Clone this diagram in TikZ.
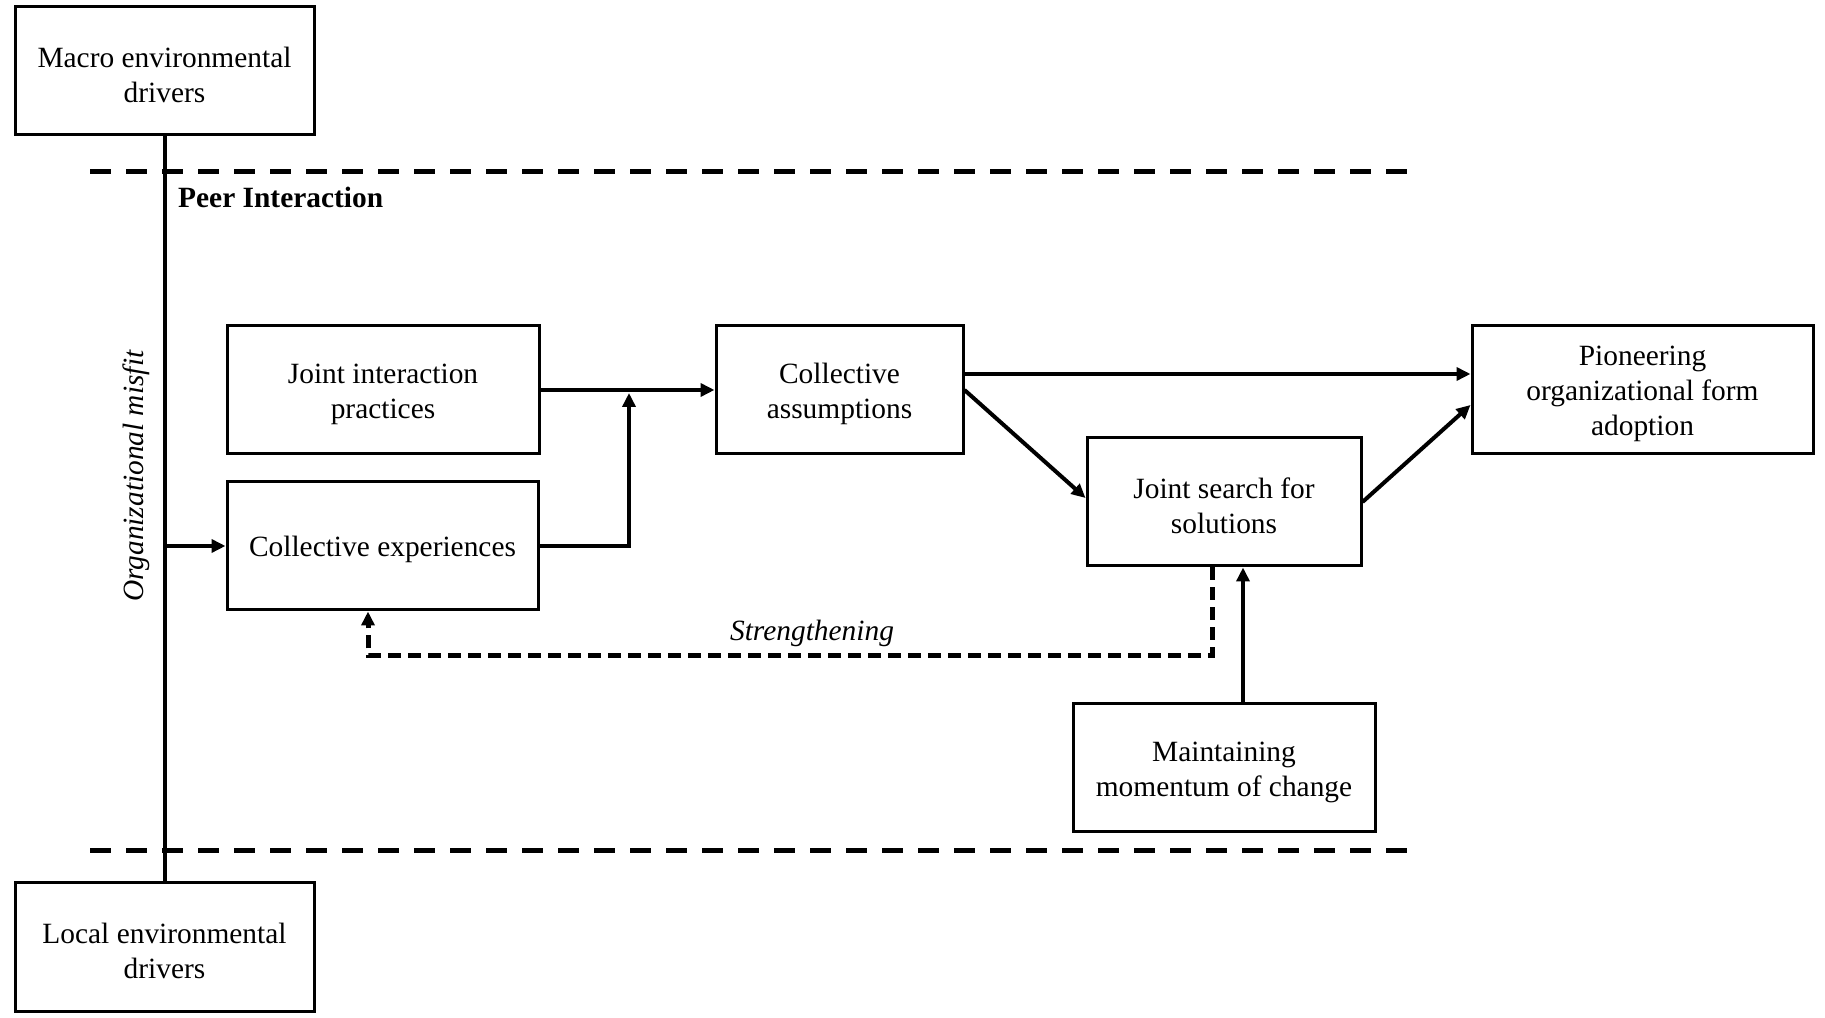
\documentclass[tikz,border=0pt]{standalone}
\usepackage{fontspec}
\setmainfont{Liberation Serif}
\usetikzlibrary{arrows.meta}

\newcommand{\tstrut}{\rule{0pt}{28pt}}

\tikzset{
  box/.style={draw, line width=3pt, align=center, minimum height=128pt, inner sep=0pt,
    font=\fontsize{29.4}{35}\selectfont},
  label/.style={inner sep=0pt, font=\fontsize{29.4}{35}\selectfont},
  flow/.style={line width=4pt, -{Triangle[length=14pt,width=13pt]}},
  feedback/.style={line width=5pt, dash pattern=on 13pt off 7pt, -{Triangle[length=14pt,width=13pt]}},
  band/.style={line width=5pt, dash pattern=on 21pt off 15pt},
}

\begin{document}
\begin{tikzpicture}[x=1pt,y=1pt]
        \useasboundingbox (0,0) rectangle (1825,1017);

        % drivers and the peer interaction band
        \node[box, minimum width=299pt] (macro) at (164.5,946) {\tstrut Macro environmental\\drivers};
        \node[box, minimum width=299pt] (local) at (164.5,70) {\tstrut Local environmental\\drivers};
        \coordinate (bandtopL) at (90,845);
        \coordinate (bandtopR) at (1411,845);
        \coordinate (bandbotL) at (90,166);
        \coordinate (bandbotR) at (1411,166);
        \draw[band] (bandtopL) -- (bandtopR);
        \draw[band] (bandbotL) -- (bandbotR);
        \node[label, anchor=west, font=\fontsize{29.4}{35}\selectfont\bfseries] (peer) at (178,820) {Peer Interaction};

        \draw[line width=4pt] (macro.south) -- (local.north);
        \node[label, rotate=90] (misfit) at (136,541) {\textit{Organizational misfit}};

        % process boxes
        \node[box, minimum width=312pt] (jip) at (383,627) {\tstrut Joint interaction\\practices};
        \node[box, minimum width=311pt] (ce) at (382.5,471) {\tstrut Collective experiences};
        \node[box, minimum width=247pt] (ca) at (839.5,627) {\tstrut Collective\\assumptions};
        \node[box, minimum width=274pt] (js) at (1224,515) {\tstrut Joint search for\\solutions};
        \node[box, minimum width=341pt] (pio) at (1642.5,627) {\tstrut Pioneering\\organizational form\\adoption};
        \node[box, minimum width=302pt] (maint) at (1224,249) {\tstrut Maintaining\\momentum of change};

        % connectors
        \draw[flow] (macro.south |- ce.west) -- (ce.west);
        \draw[flow] (jip.east) -- (ca.west);
        \coordinate (merge) at (629,624);
        \draw[flow] (ce.east) -| (merge);
        \draw[flow] ([yshift=16pt]ca.east) -- ([yshift=16pt]pio.west);
        \draw[flow] (ca.east) -- ([yshift=4pt]js.west);
        \draw[flow] (js.east) -- ([yshift=-15pt]pio.west);
        \draw[flow] ([xshift=19pt]maint.north) -- ([xshift=19pt]js.south);

        \coordinate (fbturn) at (368,361);
        \draw[feedback] ([xshift=-12pt]js.south) |- (fbturn) -- (fbturn |- ce.south);
        \node[label] (strength) at (812,384) {\textit{Strengthening}};

    \end{tikzpicture}
\end{document}
